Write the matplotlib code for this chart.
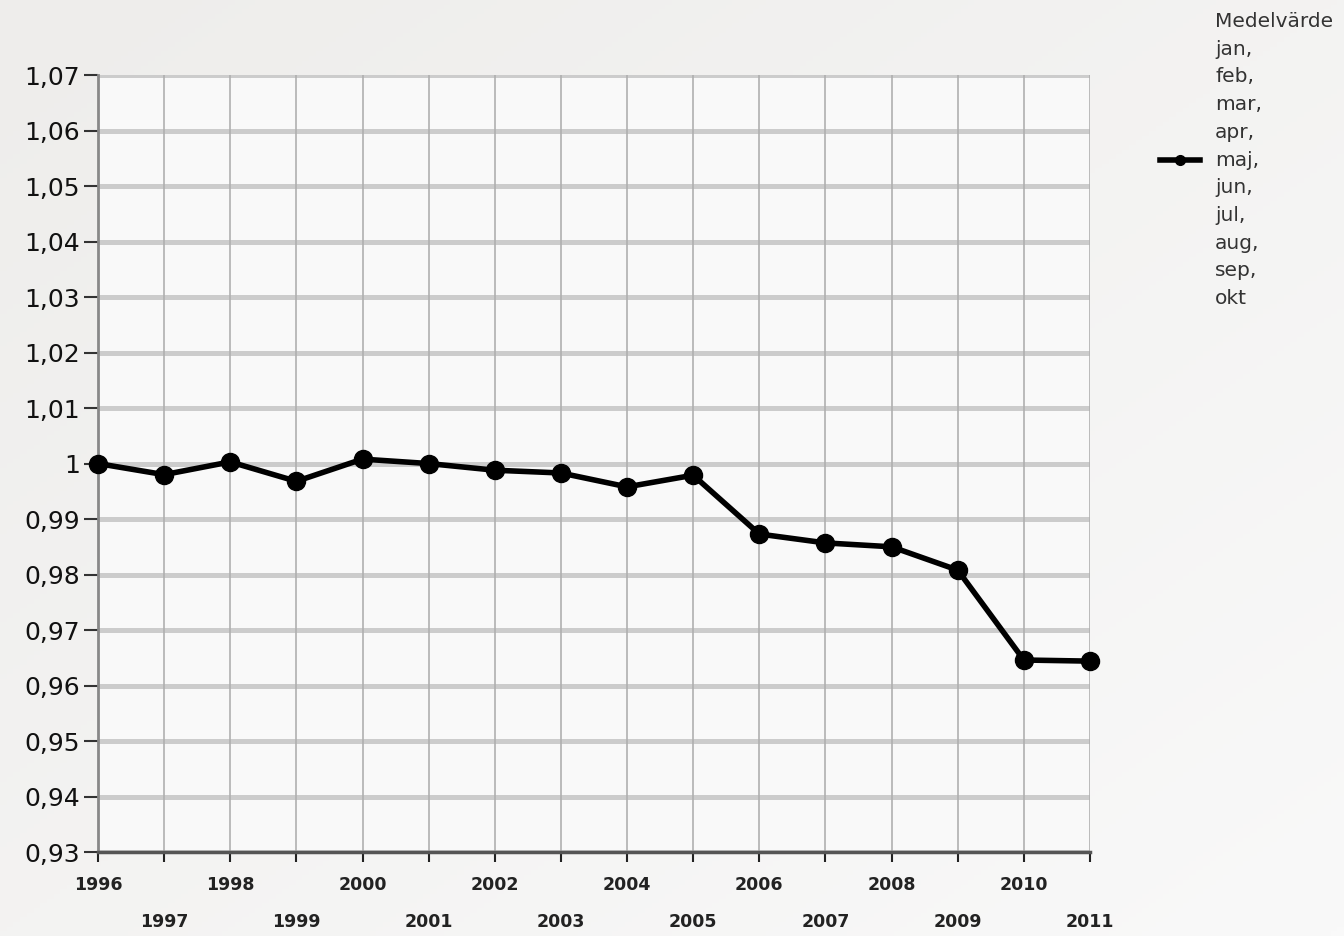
import numpy as np
import matplotlib
matplotlib.use("Agg")
import matplotlib.pyplot as plt
from matplotlib.lines import Line2D

# data
years = [1996, 1997, 1998, 1999, 2000, 2001, 2002, 2003,
         2004, 2005, 2006, 2007, 2008, 2009, 2010, 2011]
values = [1.000, 0.998, 1.0003, 0.9968, 1.0008, 1.000, 0.9988, 0.9983,
          0.9958, 0.9979, 0.9873, 0.9857, 0.9850, 0.9808, 0.9646, 0.9644]
yticks = [0.93, 0.94, 0.95, 0.96, 0.97, 0.98, 0.99, 1.00,
          1.01, 1.02, 1.03, 1.04, 1.05, 1.06, 1.07]
ytick_labels = ["0,93", "0,94", "0,95", "0,96", "0,97", "0,98", "0,99", "1",
                "1,01", "1,02", "1,03", "1,04", "1,05", "1,06", "1,07"]
legend_lines = ["Medelvärde", "jan,", "feb,", "mar,", "apr,", "maj,",
                "jun,", "jul,", "aug,", "sep,", "okt"]

fig = plt.figure(figsize=(13.44, 9.36), dpi=100)

# soft background gradient (light grey top-left -> almost white bottom-right)
bg = fig.add_axes([0, 0, 1, 1], zorder=-10)
gx, gy = np.meshgrid(np.linspace(0, 1, 200), np.linspace(0, 1, 200))
grad = 0.5 * gx + 0.5 * gy
bg.imshow(grad, cmap=matplotlib.colors.LinearSegmentedColormap.from_list(
    "bgc", ["#eeedeb", "#f9f9f9"]), aspect="auto", extent=[0, 1, 1, 0])
bg.axis("off")

ax = fig.add_axes([0.0729, 0.0897, 0.7381, 0.8301])
ax.set_facecolor("#f9f9f9")

ax.plot(years, values, color="black", linewidth=4, marker="o",
        markersize=13, zorder=5, clip_on=False)

ax.set_xlim(1996, 2011)
ax.set_ylim(0.93, 1.07)

# y axis
ax.set_yticks(yticks)
ax.set_yticklabels(ytick_labels)
ax.tick_params(axis="y", length=10, width=1.5, color="#333333",
               labelsize=18, labelcolor="#111111", pad=3)
for y in yticks:
    ax.axhline(y, color="#cccccc", linewidth=3.6, zorder=1)

# x axis: even years on first row, odd years on second row
even = [y for y in years if y % 2 == 0]
odd = [y for y in years if y % 2 == 1]
ax.set_xticks(even)
ax.set_xticklabels([str(y) for y in even], fontweight="bold")
ax.set_xticks(odd, minor=True)
ax.set_xticklabels([str(y) for y in odd], minor=True, fontweight="bold")
ax.tick_params(axis="x", which="major", length=7, width=1.5, color="#222222",
               labelsize=12.5, labelcolor="#222222", pad=10)
ax.tick_params(axis="x", which="minor", length=7, width=1.5, color="#222222",
               labelsize=12.5, labelcolor="#222222", pad=37)
for x in years:
    ax.axvline(x, color="#b0b0b0", linewidth=1.2, zorder=1)

for s in ["top", "right"]:
    ax.spines[s].set_visible(False)
ax.spines["left"].set_color("#888888")
ax.spines["left"].set_linewidth(2)
ax.spines["bottom"].set_color("#555555")
ax.spines["bottom"].set_linewidth(2.5)

# legend drawn by hand to the right of the plot
fig.add_artist(Line2D([1160 / 1344, 1200 / 1344], [1 - 160 / 936, 1 - 160 / 936],
                      color="black", linewidth=4, marker=None))
fig.add_artist(Line2D([1180 / 1344], [1 - 160 / 936], color="black",
                      marker="o", markersize=7, linestyle="none"))
fig.text(1215 / 1344, 1 - 12 / 936, "\n".join(legend_lines), ha="left", va="top",
         fontsize=14.5, color="#333333", linespacing=1.58)

fig.savefig("out.png", dpi=100)
